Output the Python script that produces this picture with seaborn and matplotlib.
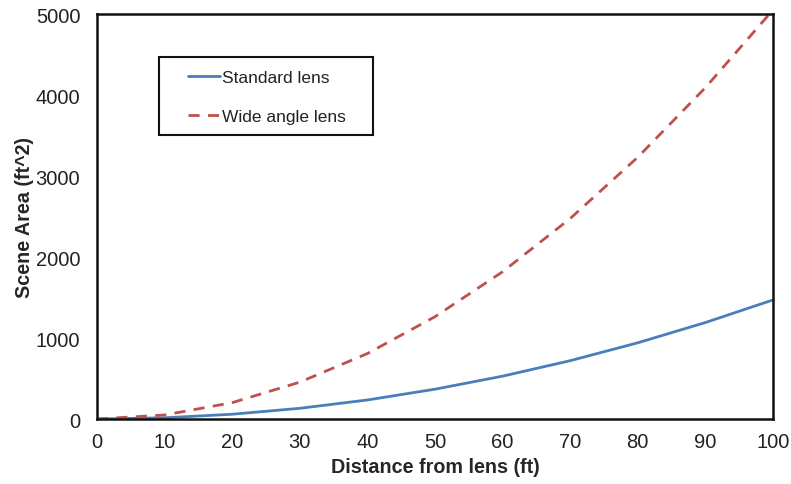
import matplotlib
matplotlib.use("Agg")
import matplotlib.pyplot as plt
from matplotlib.patches import Rectangle
import seaborn as sns
import pandas as pd

distance_ft = [0, 10, 20, 30, 40, 50, 60, 70, 80, 90, 100]
standard_area = [0, 15, 59, 132, 235, 368, 529, 720, 941, 1191, 1470]
wide_area = [0, 50, 202, 455, 808, 1263, 1818, 2475, 3232, 4091, 5050]
series_names = ["Standard lens", "Wide angle lens"]
x_ticks = [0, 10, 20, 30, 40, 50, 60, 70, 80, 90, 100]
y_ticks = [0, 1000, 2000, 3000, 4000, 5000]

df = pd.concat([
    pd.DataFrame({"Distance": distance_ft, "Area": standard_area, "Lens": series_names[0]}),
    pd.DataFrame({"Distance": distance_ft, "Area": wide_area, "Lens": series_names[1]}),
])

sns.set_theme(style="white")
plt.rcParams["font.family"] = ["Liberation Sans", "DejaVu Sans"]

fig = plt.figure(figsize=(7.91, 4.85), dpi=100)
ax = fig.add_axes([0.1226, 0.134, 0.8546, 0.835])

palette = {series_names[0]: "#4A7EBB", series_names[1]: "#C0504D"}
dashes = {series_names[0]: "", series_names[1]: (4, 3)}
sns.lineplot(data=df, x="Distance", y="Area", hue="Lens", style="Lens",
             palette=palette, dashes=dashes, linewidth=2, ax=ax)

ax.set_xlim(0, 100)
ax.set_ylim(0, 5000)
ax.set_xticks(x_ticks)
ax.set_yticks(y_ticks)
ax.tick_params(axis="both", direction="in", length=5, width=1, color="#BBBBBB",
               labelsize=14.5, labelcolor="#222222")
ax.tick_params(axis="x", pad=9)
ax.tick_params(axis="y", pad=12)
for s in ax.spines.values():
    s.set_color("#111111")
    s.set_linewidth(1.8)

ax.set_xlabel("Distance from lens (ft)", fontsize=14.2, fontweight="bold", labelpad=5)
ax.set_ylabel("Scene Area (ft^2)", fontsize=14.2, fontweight="bold", labelpad=1)

# legend box drawn as its own rectangle, entries placed inside it
ax.add_patch(Rectangle((0.0917, 0.701), 0.3163, 0.193, transform=ax.transAxes,
                       facecolor="white", edgecolor="#111111", linewidth=1.5,
                       zorder=4))
leg = ax.legend(loc="upper left", bbox_to_anchor=(0.1346, 0.862), frameon=False,
                fontsize=12.5, handlelength=1.85, handletextpad=0.12,
                labelspacing=1.35, borderpad=0, borderaxespad=0)
leg.set_zorder(5)
for t in leg.get_texts():
    t.set_color("#222222")

fig.savefig("out.png", dpi=100)
